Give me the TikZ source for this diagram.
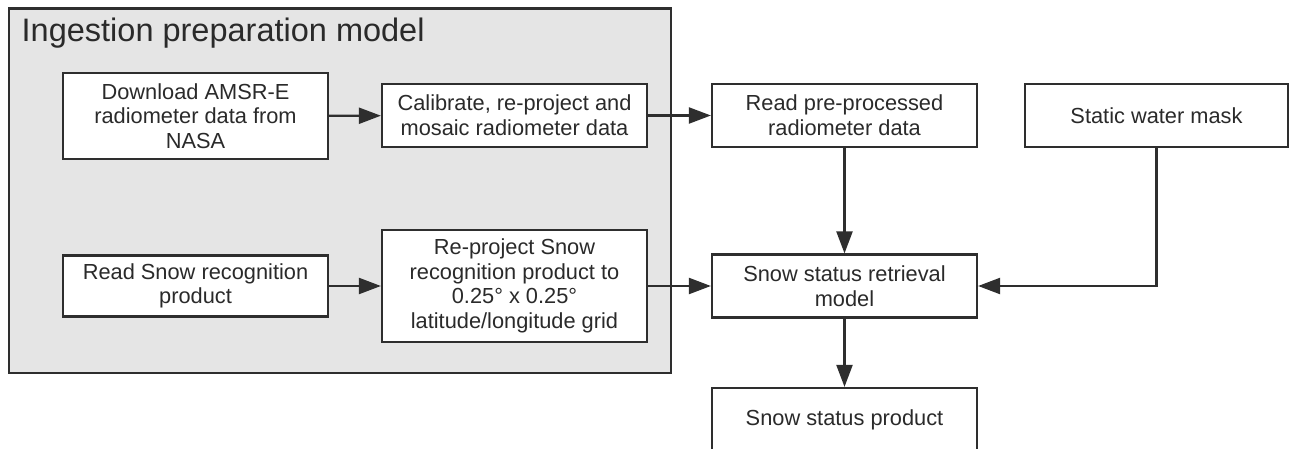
\documentclass[tikz,border=0pt]{standalone}
\usepackage{fontspec}
\setmainfont{Liberation Sans}
\usetikzlibrary{arrows.meta}
\definecolor{linec}{HTML}{2E2E2E}
\definecolor{textc}{HTML}{2A2A2A}
\definecolor{groupfill}{HTML}{E5E5E5}
\begin{document}
\begin{tikzpicture}[x=1pt,y=-1pt,
  procbox/.style={draw=linec, line width=2.2pt, fill=white, text=textc,
    align=center, inner sep=0pt, font=\fontsize{21.8}{24.7}\selectfont},
  flow/.style={draw=linec, line width=2.2pt,
    -{Triangle[length=22pt,width=16pt]}}]
\useasboundingbox (0,0) rectangle (1291,449);
\clip (0,0) rectangle (1291,449);
% group container
\node[draw=linec, line width=2.2pt, fill=groupfill, minimum width=662pt, minimum height=364pt, inner sep=0pt, anchor=north west] (group) at (7.5,7.5) {};
\node[anchor=base west, text=textc, inner sep=0pt, font=\fontsize{32.5}{36}\selectfont] (title) at (21.5,41.5) {Ingestion preparation model};
% boxes
\node[procbox, minimum width=265pt, minimum height=86pt] (dl) at (195.5,116) {Download AMSR-E\\radiometer data from\\NASA};
\node[procbox, minimum width=265pt, minimum height=63pt] (cal) at (514.5,115.5) {Calibrate, re-project and\\mosaic radiometer data};
\node[procbox, minimum width=265pt, minimum height=63pt] (rpp) at (844.5,115.5) {Read pre-processed\\radiometer data};
\node[procbox, minimum width=263pt, minimum height=63pt] (swm) at (1156.5,115.5) {Static water mask};
\node[procbox, minimum width=265pt, minimum height=61pt] (rsr) at (195.5,286) {Read Snow recognition\\product};
\node[procbox, minimum width=265pt, minimum height=112pt] (rep) at (514.5,286) {Re-project Snow\\recognition product to\\0.25° x 0.25°\\latitude/longitude grid};
\node[procbox, minimum width=265pt, minimum height=63pt] (ret) at (844.5,286) {Snow status retrieval\\model};
\node[procbox, minimum width=265pt, minimum height=64pt] (prod) at (844.5,420) {Snow status product};
% connectors
\draw[flow] (dl) -- (cal);
\draw[flow] (cal) -- (rpp);
\draw[flow] (rsr) -- (rep);
\draw[flow] (rep) -- (ret);
\draw[flow] (rpp) -- (ret);
\draw[flow] (swm.south) |- (ret.east);
\draw[flow] (ret) -- (prod);
\end{tikzpicture}
\end{document}
